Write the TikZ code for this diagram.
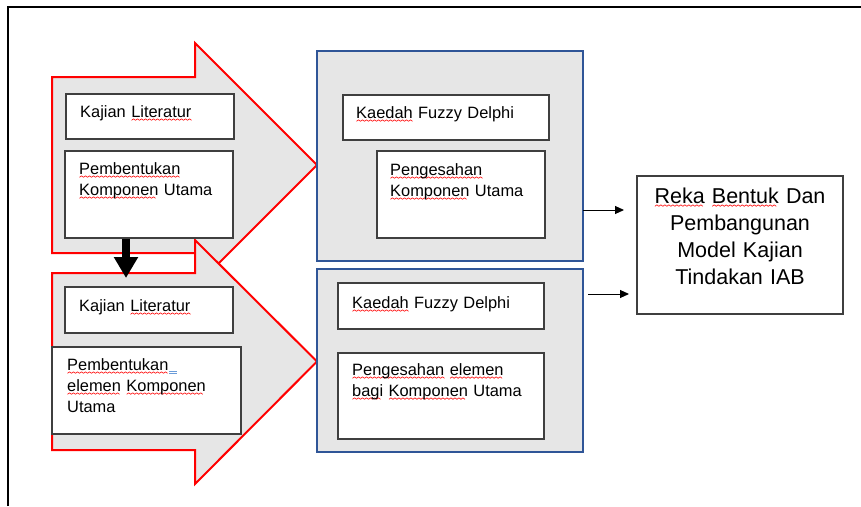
\documentclass[tikz,border=0pt]{standalone}
\usepackage{fontspec}
\setmainfont{Liberation Sans}
\usetikzlibrary{arrows.meta}
\definecolor{boxgray}{HTML}{E6E6E6}
\definecolor{bluebd}{HTML}{2F5597}
\definecolor{darkbd}{HTML}{3F3F3F}
\definecolor{gramblue}{HTML}{6A9BD8}
\newsavebox\wavebox
\newsavebox\wordbox
\newcommand\sqw[1]{\leavevmode\sbox\wordbox{#1}\rlap{\lower3.6pt\hbox to \wd\wordbox{\leaders\copy\wavebox\hfil}}\usebox\wordbox}
\begin{document}
\sbox\wavebox{\pgfpicture\pgfsetlinewidth{0.6pt}\pgfsetstrokecolor{red}\pgfsetroundjoin\pgfpathmoveto{\pgfpoint{0pt}{0pt}}\pgfpathlineto{\pgfpoint{2pt}{1.5pt}}\pgfpathlineto{\pgfpoint{4pt}{0pt}}\pgfusepath{stroke}\endpgfpicture}%
\wd\wavebox=4pt
\begin{tikzpicture}[x=1pt,y=-1pt,
  redarrow/.style={fill=boxgray, draw=red, line width=2pt, line join=miter},
  bluebox/.style={rectangle, fill=boxgray, draw=bluebd, line width=2pt, inner sep=0pt},
  whitebox/.style={rectangle, fill=white, draw=darkbd, line width=1.2pt, inner sep=0pt},
  smalltext/.style={anchor=base west, inner sep=0pt, align=left, text width=220pt, font=\fontsize{16.4}{21}\selectfont},
  bigtext/.style={anchor=base, inner sep=0pt, align=center, text width=206pt, font=\fontsize{21.5}{27}\selectfont},
  thinarrow/.style={draw=black, line width=1pt, -{Triangle[length=9pt,width=8pt]}},
  blockarrow/.style={draw=black, line width=8pt, -{Triangle[length=21pt,width=23pt]}},
  frameline/.style={draw=black, line width=2.5pt, line join=miter}
]
\useasboundingbox (0,0) rectangle (861,506);
\fill[white] (0,0) rectangle (861,506);

% frame
\draw[frameline] (8,506) -- (8,7) -- (861,7);

% red block arrows
\draw[redarrow] (52,77) -- (195,77) -- (195,43) -- (317,165) -- (195,287) -- (195,253) -- (52,253) -- cycle;
\draw[redarrow] (52,273) -- (195,273) -- (195,240) -- (317,361.5) -- (195,484) -- (195,450) -- (52,450) -- cycle;

% blue boxes
\node[bluebox, minimum width=266pt, minimum height=210pt] (ub) at (450,156) {};
\node[bluebox, minimum width=266pt, minimum height=183pt] (lb) at (450,360.5) {};

% white boxes in upper arrow
\node[whitebox, minimum width=168pt, minimum height=45pt] (kl1) at (150,116.5) {};
\node[whitebox, minimum width=168pt, minimum height=87pt] (pb1) at (149,194.5) {};
% white boxes in lower arrow
\node[whitebox, minimum width=168pt, minimum height=46pt] (kl2) at (149,310) {};
\node[whitebox, minimum width=189pt, minimum height=87pt] (pb2) at (146.5,390.5) {};
% white boxes in blue boxes
\node[whitebox, minimum width=206pt, minimum height=45pt] (kd1) at (446,117.5) {};
\node[whitebox, minimum width=168pt, minimum height=87pt] (pg1) at (461,194.5) {};
\node[whitebox, minimum width=206pt, minimum height=46pt] (kd2) at (441,306) {};
\node[whitebox, minimum width=206pt, minimum height=86pt] (pe2) at (441,396) {};
% result box
\node[whitebox, minimum width=206pt, minimum height=138pt] (reka) at (740,245) {};

% texts
\node[smalltext] (tkl1) at (80,117) {Kajian \sqw{Literatur}};
\node[smalltext] (tpb1) at (79,174) {\sqw{Pembentukan}\\\sqw{Komponen} Utama};
\node[smalltext] (tkl2) at (79,311) {Kajian \sqw{Literatur}};
\node[smalltext] (tpb2) at (67,370) {\sqw{Pembentukan}\\\sqw{elemen} \sqw{Komponen}\\Utama};
\node[smalltext] (tkd1) at (356,118) {\sqw{Kaedah} Fuzzy Delphi};
\node[smalltext] (tpg1) at (390,175) {\sqw{Pengesahan}\\\sqw{Komponen} Utama};
\node[smalltext] (tkd2) at (352,308) {\sqw{Kaedah} Fuzzy Delphi};
\node[smalltext] (tpe2) at (352,375) {\sqw{Pengesahan} \sqw{elemen}\\\sqw{bagi} \sqw{Komponen} Utama};
\node[bigtext] (treka) at (740,203) {\sqw{Reka} \sqw{Bentuk} Dan\\Pembangunan\\Model Kajian\\Tindakan IAB};

% grammar mark after "Pembentukan"
\draw[gramblue, line width=0.7pt] (169,371) -- (177,371) (169,373.5) -- (177,373.5);

% black down arrow
\coordinate (dtip) at (126,278);
\draw[blockarrow] (pb1.south -| dtip) -- (dtip);

% connectors to result
\coordinate (c1s) at (583,210);
\coordinate (c1e) at (624,210);
\coordinate (c2s) at (588,294);
\coordinate (c2e) at (629,294);
\draw[thinarrow] (c1s) -- (c1e);
\draw[thinarrow] (c2s) -- (c2e);
\end{tikzpicture}
\end{document}
